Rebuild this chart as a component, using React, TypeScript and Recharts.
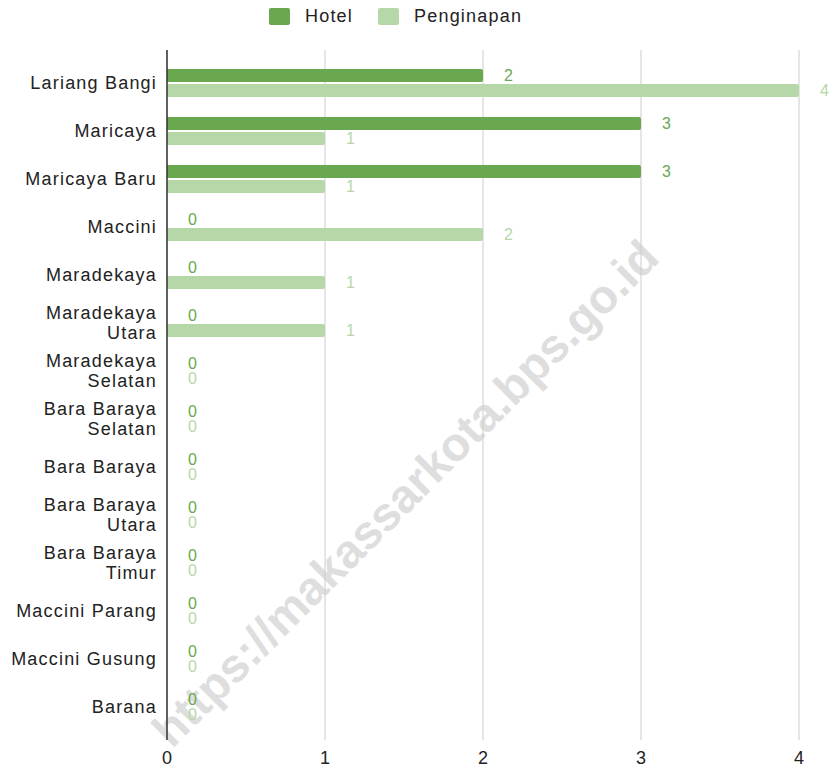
import React from 'react';
import {
  Bar,
  BarChart,
  CartesianGrid,
  LabelList,
  XAxis,
  YAxis,
} from 'recharts';

// Hotel / Penginapan counts per kelurahan.
const categories = [
  'Lariang Bangi',
  'Maricaya',
  'Maricaya Baru',
  'Maccini',
  'Maradekaya',
  'Maradekaya Utara',
  'Maradekaya Selatan',
  'Bara Baraya Selatan',
  'Bara Baraya',
  'Bara Baraya Utara',
  'Bara Baraya Timur',
  'Maccini Parang',
  'Maccini Gusung',
  'Barana',
];
const hotel = [2, 3, 3, 0, 0, 0, 0, 0, 0, 0, 0, 0, 0, 0];
const penginapan = [4, 1, 1, 2, 1, 1, 0, 0, 0, 0, 0, 0, 0, 0];
const xTicks = [0, 1, 2, 3, 4];

const HOTEL = '#6aa84f';
const PENGINAPAN = '#b6d7a8';
const FONT = '"Liberation Sans", Arial, sans-serif';
const W = 840;
const H = 769;

const rows = categories.map((name, i) => ({
  name,
  Hotel: hotel[i],
  Penginapan: penginapan[i],
}));

// greedy word wrap, roughly what the original renderer did
function wrap(label: string, max: number) {
  const out: string[] = [];
  let cur = '';
  label.split(' ').forEach((w) => {
    const next = cur ? cur + ' ' + w : w;
    if (next.length > max && cur) {
      out.push(cur);
      cur = w;
    } else {
      cur = next;
    }
  });
  if (cur) out.push(cur);
  return out;
}

function CategoryTick(props: any) {
  const { x, y, payload } = props;
  const lines = wrap(String(payload.value), 14);
  const lineH = 20;
  const first = -((lines.length - 1) * lineH) / 2;
  return (
    <text
      x={x}
      y={y}
      textAnchor="end"
      dominantBaseline="central"
      fill="#222"
      fontSize={18}
      fontFamily={FONT}
      style={{ letterSpacing: '1.2px' }}
    >
      {lines.map((l, i) => (
        <tspan key={i} x={x} dy={i === 0 ? first : lineH}>
          {l}
        </tspan>
      ))}
    </text>
  );
}

function LegendBox() {
  const item = (color: string, label: string) => (
    <div style={{ display: 'flex', alignItems: 'center', marginRight: 25 }}>
      <div
        style={{
          width: 21,
          height: 17,
          background: color,
          borderRadius: 2,
          marginRight: 15,
        }}
      />
      <span style={{ color: '#222', letterSpacing: '1.2px' }}>{label}</span>
    </div>
  );
  return (
    <div
      style={{
        position: 'absolute',
        left: 269,
        top: 7,
        display: 'flex',
        fontFamily: FONT,
        fontSize: 18,
        lineHeight: '19px',
      }}
    >
      {item(HOTEL, 'Hotel')}
      {item(PENGINAPAN, 'Penginapan')}
    </div>
  );
}

function Watermark() {
  return (
    <svg
      width={W}
      height={H}
      style={{ position: 'absolute', left: 0, top: 0 }}
    >
      <text
        x={405}
        y={493}
        textAnchor="middle"
        dominantBaseline="central"
        transform="rotate(-45 405 493)"
        fill="#dedede"
        fontSize={47}
        fontWeight="bold"
        fontFamily={FONT}
      >
        https://makassarkota.bps.go.id
      </text>
    </svg>
  );
}

export default function App() {
  return (
    <div
      style={{
        position: 'absolute',
        left: 0,
        top: 0,
        width: W,
        height: H,
        background: '#fff',
      }}
    >
      <Watermark />
      <div style={{ position: 'absolute', left: 0, top: 0 }}>
        <BarChart
          width={W}
          height={H}
          data={rows}
          layout="vertical"
          margin={{ top: 50, right: 41, bottom: 0, left: 0 }}
          barSize={13}
          barGap={2}
        >
          <CartesianGrid horizontal={false} stroke="#cccccc" />
          <XAxis
            type="number"
            domain={[0, 4]}
            ticks={xTicks}
            axisLine={false}
            tickLine={false}
            height={29}
            tickSize={4}
            tickMargin={7}
            tick={{ fill: '#222', fontSize: 18, fontFamily: FONT }}
          />
          <YAxis
            type="category"
            dataKey="name"
            width={167}
            interval={0}
            padding={{ top: 9, bottom: 9 }}
            axisLine={{ stroke: '#333', strokeWidth: 1.5 }}
            tickLine={false}
            tickSize={4}
            tickMargin={6}
            tick={<CategoryTick />}
          />
          <Bar
            dataKey="Hotel"
            fill={HOTEL}
            radius={[0, 2, 2, 0]}
            minPointSize={0.01}
            isAnimationActive={false}
          >
            <LabelList
              dataKey="Hotel"
              position="right"
              offset={21}
              fill={HOTEL}
              fontSize={16}
              fontFamily={FONT}
            />
          </Bar>
          <Bar
            dataKey="Penginapan"
            fill={PENGINAPAN}
            radius={[0, 2, 2, 0]}
            minPointSize={0.01}
            isAnimationActive={false}
          >
            <LabelList
              dataKey="Penginapan"
              position="right"
              offset={21}
              fill={PENGINAPAN}
              fontSize={16}
              fontFamily={FONT}
            />
          </Bar>
        </BarChart>
      </div>
      <LegendBox />
    </div>
  );
}
